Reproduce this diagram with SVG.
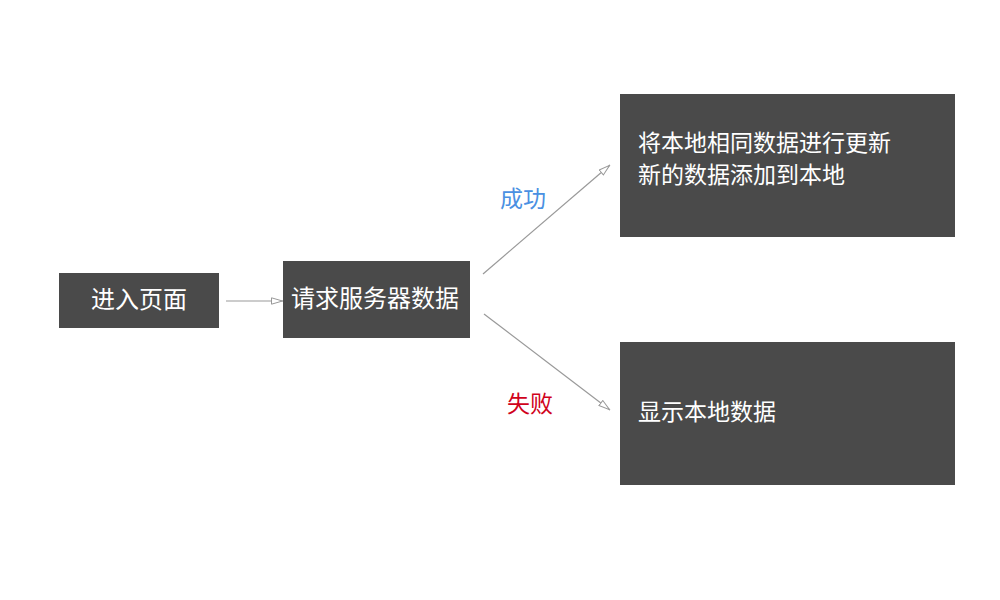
<svg xmlns="http://www.w3.org/2000/svg" width="1000" height="600" viewBox="0 0 1000 600">
<style>
.box{fill:#4a4a4a}
.t{fill:#ffffff;font-family:"Noto Sans CJK SC","Noto Sans",sans-serif;font-size:23px}
.edge{stroke:#999999;stroke-width:1.2;fill:none;marker-end:url(#arr)}
.lbl{font-family:"Noto Sans CJK SC","Noto Sans",sans-serif;font-size:23px}
</style>
<defs>
<marker id="arr" viewBox="0 0 12 8" refX="12" refY="4" markerWidth="12" markerHeight="8" markerUnits="userSpaceOnUse" orient="auto">
<path d="M0.5,0.8 L11.5,4 L0.5,7.2 Z" fill="#ffffff" stroke="#999999" stroke-width="1"/>
</marker>
</defs>
<rect width="1000" height="600" fill="#ffffff"/>
<g id="connectors">
<line class="edge" x1="226" y1="301" x2="283" y2="301"/>
<line class="edge" x1="483" y1="274" x2="610" y2="165"/>
<line class="edge" x1="484" y1="314" x2="610" y2="410"/>
<text class="lbl" x="523" y="207" text-anchor="middle" fill="#4a90e2">成功</text>
<text class="lbl" x="530" y="412" text-anchor="middle" fill="#d0021b">失败</text>
</g>
<g id="node-enter">
<rect class="box" x="59" y="273" width="160" height="55"/>
<text class="t" x="139" y="308" text-anchor="middle" style="font-size:24px">进入页面</text>
</g>
<g id="node-request">
<rect class="box" x="283" y="261" width="187" height="77"/>
<text class="t" x="375" y="307" text-anchor="middle" style="font-size:24px">请求服务器数据</text>
</g>
<g id="node-success">
<rect class="box" x="620" y="94" width="335" height="143"/>
<text class="t" x="638" y="151">将本地相同数据进行更新</text>
<text class="t" x="638" y="183">新的数据添加到本地</text>
</g>
<g id="node-fail">
<rect class="box" x="620" y="342" width="335" height="143"/>
<text class="t" x="638" y="420">显示本地数据</text>
</g>
</svg>
